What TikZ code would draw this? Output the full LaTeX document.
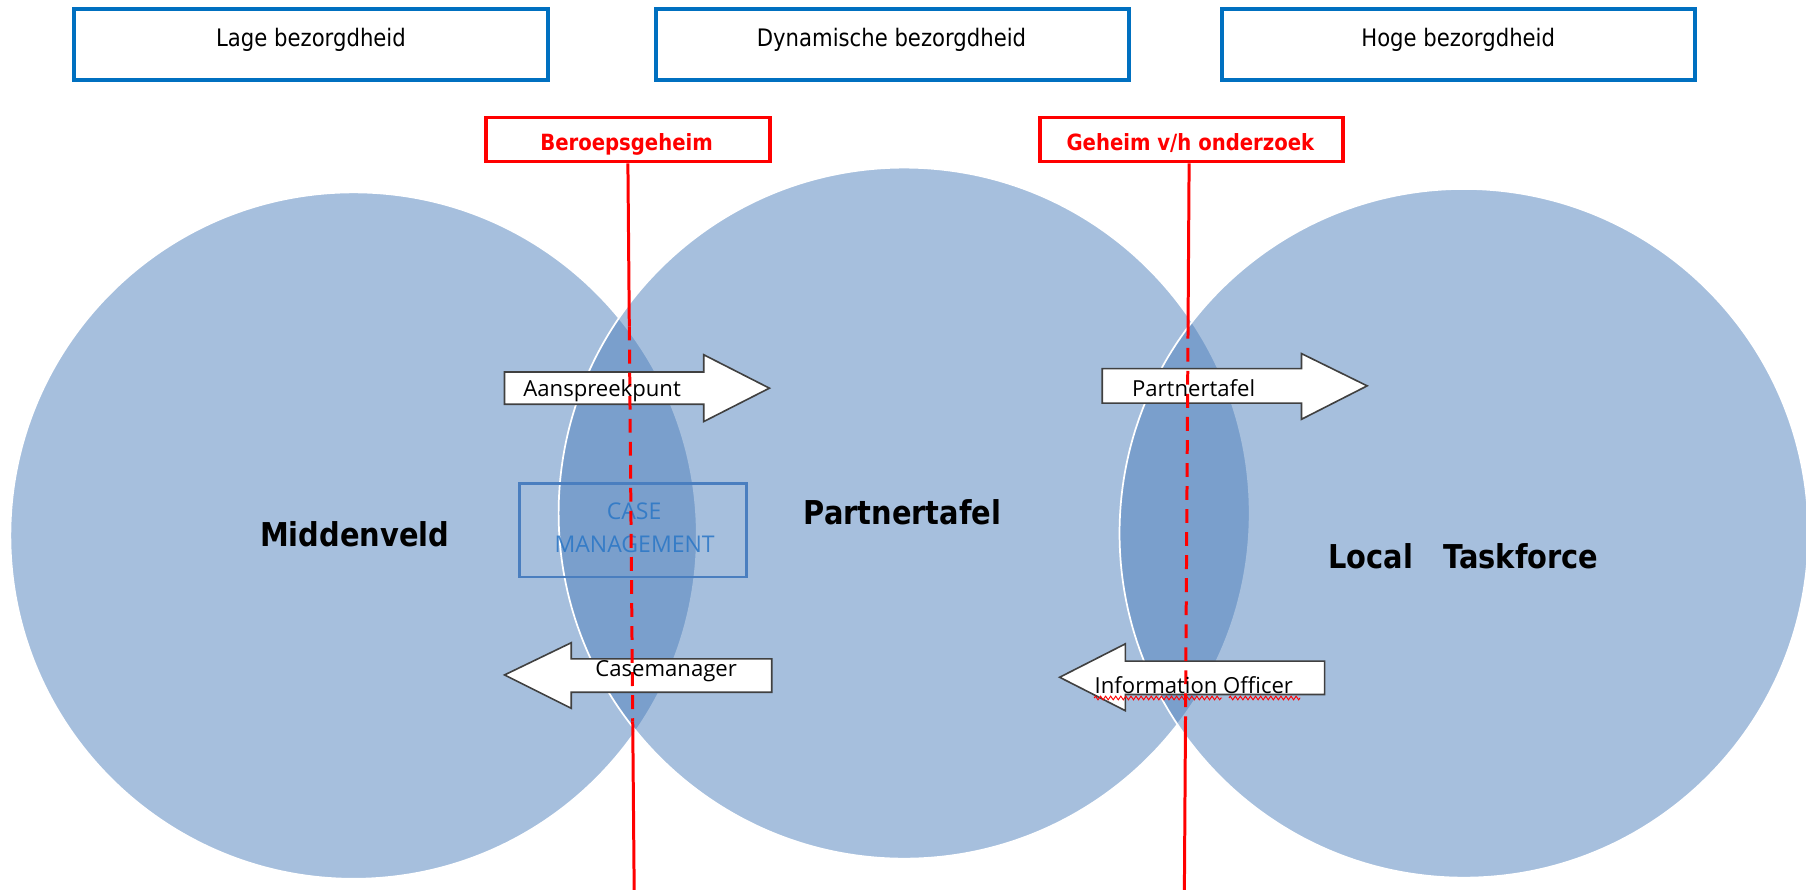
\documentclass[tikz,border=0pt]{standalone}
\usepackage{fontspec}
\usetikzlibrary{calc,decorations.pathmorphing}
\newfontfamily\tahfont{DejaVu Sans}[FakeStretch=0.88]
\newfontfamily\segfont{Open Sans}
\definecolor{circblue}{HTML}{4F81BD}
\definecolor{boxblue}{HTML}{0070C0}
\definecolor{arrowgray}{HTML}{404040}
\definecolor{casetext}{HTML}{2A76C6}
\definecolor{caseborder}{HTML}{4A7EBF}
\begin{document}
\begin{tikzpicture}[x=0.5pt,y=-0.5pt,
  bluebox/.style={draw=boxblue, line width=1.75pt, minimum width=205.5pt, minimum height=30.75pt, inner sep=0pt},
  boxtext/.style={font=\tahfont\fontsize{10.45}{12.5}\selectfont, text=black, inner sep=0pt, anchor=base},
  redbox/.style={draw=red, line width=1.45pt, minimum width=123.35pt, minimum height=19.1pt, inner sep=0pt},
  redtext/.style={font=\tahfont\bfseries\fontsize{9.7}{11.5}\selectfont, text=red, inner sep=0pt, anchor=base},
  bigtext/.style={font=\tahfont\bfseries\fontsize{14.25}{16}\selectfont, text=black, inner sep=0pt, anchor=base},
  arrowtext/.style={font=\segfont\fontsize{9.6}{11}\selectfont, text=black, inner sep=0pt, anchor=base west},
  blockarrow/.style={fill=white, draw=arrowgray, line width=0.7pt, line join=miter},
  circ/.style={fill=circblue, fill opacity=0.5, draw=white, draw opacity=1, line width=0.75pt},
  casebox/.style={draw=caseborder, line width=1.15pt, minimum width=98.5pt, minimum height=40.5pt, inner sep=0pt},
  casetxt/.style={font=\segfont\fontsize{10}{12}\selectfont, text=casetext, text opacity=0.85, inner sep=0pt, anchor=base},
  redv/.style={draw=red, line width=1.3pt},
  squiggle/.style={draw=red, line width=0.4pt, decorate, decoration={zigzag, amplitude=0.8pt, segment length=2.2pt}}
]
\useasboundingbox[fill=white] (0,0) rectangle (1568,772.6);

% circles
\path[circ] (307,465) circle[radius=149pt];
\path[circ] (785,445.5) circle[radius=150pt];
\path[circ] (1271,463) circle[radius=149.5pt];

% top blue boxes
\node[bluebox] (b1) at (270,38.75) {};
\node[bluebox] (b2) at (775,38.75) {};
\node[bluebox] (b3) at (1266.5,38.75) {};
\node[boxtext] (t1) at (270,40) {Lage bezorgdheid};
\node[boxtext] (t2) at (774,40) {Dynamische bezorgdheid};
\node[boxtext] (t3) at (1266,40) {Hoge bezorgdheid};

% red boxes
\node[redbox] (rb1) at (545.15,121.25) {};
\node[redbox, minimum width=131.5pt] (rb2) at (1034.5,121.25) {};
\node[redtext] (rt1) at (544,130.8) {Beroepsgeheim};
\node[redtext] (rt2) at (1033.5,130.8) {Geheim v/h onderzoek};

% circle labels
\node[bigtext] (lmid) at (308,474.6) {Middenveld};
\node[bigtext] (lpart) at (783.5,455) {Partnertafel};
\node[bigtext] (ltask) at (1270.5,494) {Local\ \ \ Taskforce};

% case management box
\node[casebox] (cm) at (549.5,460.5) {};
\node[casetxt] (cm1) at (550.5,451.4) {CASE};
\node[casetxt] (cm2) at (551,479.8) {MANAGEMENT};

% block arrows
\draw[blockarrow] (438,323) -- (611,323) -- (611,308) -- (668,337) -- (611,366) -- (611,351) -- (438,351) -- cycle;
\draw[blockarrow] (957,320) -- (1130,320) -- (1130,307) -- (1187,335) -- (1130,364) -- (1130,350) -- (957,350) -- cycle;
\draw[blockarrow] (438,586) -- (496,558) -- (496,572) -- (670,572) -- (670,601) -- (496,601) -- (496,615) -- cycle;
\draw[blockarrow] (920,588) -- (977,559) -- (977,574) -- (1150,574) -- (1150,603) -- (977,603) -- (977,617) -- cycle;

% red vertical lines
\coordinate (L1) at (rb1.south);
\coordinate (L4) at (550.6,772.6);
\coordinate (L2) at ($(L1)!0.2248!(L4)$);
\coordinate (L3) at ($(L1)!0.7684!(L4)$);
\draw[redv] (L1) -- (L2);
\draw[redv, dash pattern=on 6pt off 4pt] (L2) -- (L3);
\draw[redv] (L3) -- (L4);
\coordinate (R1) at ($(rb2.south)+(-2.1,0)$);
\coordinate (R4) at (1028.3,772.6);
\coordinate (R2) at ($(R1)!0.2223!(R4)$);
\coordinate (R3) at ($(R1)!0.766!(R4)$);
\draw[redv] (R1) -- (R2);
\draw[redv, dash pattern=on 6pt off 4pt] (R2) -- (R3);
\draw[redv] (R3) -- (R4);

% arrow texts
\node[arrowtext] (a1) at (454,344.5) {Aanspreekpunt};
\node[arrowtext] (a2) at (982.5,344) {Partnertafel};
\node[arrowtext] (a3) at (516.5,587.5) {Casemanager};
\node[arrowtext] (a4) at (950,601.7) {Information Officer};
\draw[squiggle] (950,606) -- (1061,606);
\draw[squiggle] (1067,606) -- (1129,606);
\end{tikzpicture}
\end{document}
